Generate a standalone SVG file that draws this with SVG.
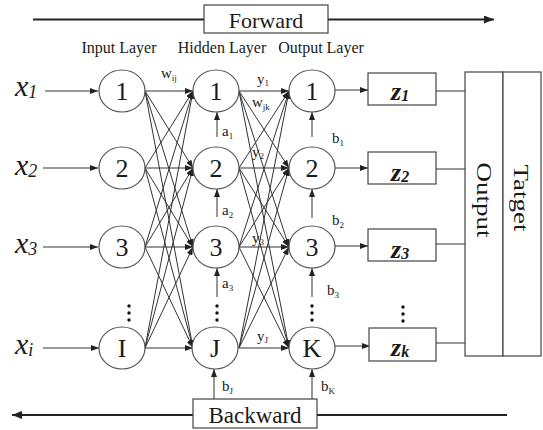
<svg xmlns="http://www.w3.org/2000/svg" width="543" height="430" viewBox="0 0 543 430">
<style>
text{font-family:"Liberation Serif","Times New Roman",serif;fill:#1a1a1a}
.node ellipse{fill:#fff;stroke:#555;stroke-width:1.2}
.num{font-size:26px;text-anchor:middle}
.lbl{font-size:16px;text-anchor:middle}
.xl{font-size:30px;font-style:italic}
.xs{font-size:18px;font-style:italic}
.zl{font-size:26px;font-style:italic;font-weight:bold}
.zs{font-size:16px;font-style:italic;font-weight:bold}
.sm{font-size:15px}
.sub{font-size:9px}
.box{fill:#fff;stroke:#444;stroke-width:1.2}
.c line{stroke:#333;stroke-width:1}
.c .arr{marker-end:url(#ah)}
.big{stroke:#222;stroke-width:2}
.dots circle{fill:#111}
</style>
<defs>
<marker id="ah" markerWidth="8" markerHeight="6" refX="8" refY="3" orient="auto" markerUnits="userSpaceOnUse">
<path d="M0,0 L8,3 L0,6 z" fill="#222"/>
</marker>
<marker id="ahb" markerWidth="10" markerHeight="8" refX="10" refY="4" orient="auto" markerUnits="userSpaceOnUse">
<path d="M0,0 L10,4 L0,8 z" fill="#222"/>
</marker>
</defs>

<!-- Forward / Backward -->
<g id="forward">
<line class="big" x1="33" y1="19.5" x2="204" y2="19.5"/>
<line class="big" x1="328" y1="19.5" x2="494" y2="19.5" marker-end="url(#ahb)"/>
<rect class="box" x="204" y="5" width="124" height="28"/>
<text x="266" y="28" font-size="22" text-anchor="middle">Forward</text>
</g>
<g id="backward">
<line class="big" x1="507" y1="415" x2="317" y2="415"/>
<line class="big" x1="193" y1="415" x2="12" y2="415" marker-end="url(#ahb)"/>
<rect class="box" x="193" y="399" width="124" height="29"/>
<text x="255" y="423" font-size="23" text-anchor="middle">Backward</text>
</g>

<!-- layer labels -->
<text class="lbl" x="119" y="53">Input Layer</text>
<text class="lbl" x="222" y="53">Hidden Layer</text>
<text class="lbl" x="321" y="53">Output Layer</text>

<!-- connectors -->
<g id="connectors" class="c">
<!-- inputs -->
<line class="arr" x1="45" y1="91" x2="98" y2="91"/>
<line class="arr" x1="43" y1="168" x2="98" y2="168"/>
<line class="arr" x1="43" y1="247" x2="98" y2="247"/>
<line class="arr" x1="43" y1="348" x2="99" y2="348"/>
<!-- input -> hidden -->
<line class="arr" x1="145" y1="91" x2="193" y2="91"/>
<line class="arr" x1="145" y1="91" x2="193" y2="168"/>
<line class="arr" x1="145" y1="91" x2="193" y2="247"/>
<line class="arr" x1="145" y1="91" x2="193" y2="348"/>
<line class="arr" x1="145" y1="168" x2="193" y2="91"/>
<line class="arr" x1="145" y1="168" x2="193" y2="168"/>
<line class="arr" x1="145" y1="168" x2="193" y2="247"/>
<line class="arr" x1="145" y1="168" x2="193" y2="348"/>
<line class="arr" x1="145" y1="247" x2="193" y2="91"/>
<line class="arr" x1="145" y1="247" x2="193" y2="168"/>
<line class="arr" x1="145" y1="247" x2="193" y2="247"/>
<line class="arr" x1="145" y1="247" x2="193" y2="348"/>
<line class="arr" x1="145" y1="348" x2="193" y2="91"/>
<line class="arr" x1="145" y1="348" x2="193" y2="168"/>
<line class="arr" x1="145" y1="348" x2="193" y2="247"/>
<line class="arr" x1="145" y1="348" x2="193" y2="348"/>
<!-- hidden -> output -->
<line class="arr" x1="239" y1="91" x2="289" y2="91"/>
<line class="arr" x1="239" y1="91" x2="289" y2="168"/>
<line class="arr" x1="239" y1="91" x2="289" y2="247"/>
<line class="arr" x1="239" y1="91" x2="289" y2="348"/>
<line class="arr" x1="239" y1="168" x2="289" y2="91"/>
<line class="arr" x1="239" y1="168" x2="289" y2="168"/>
<line class="arr" x1="239" y1="168" x2="289" y2="247"/>
<line class="arr" x1="239" y1="168" x2="289" y2="348"/>
<line class="arr" x1="239" y1="247" x2="289" y2="91"/>
<line class="arr" x1="239" y1="247" x2="289" y2="168"/>
<line class="arr" x1="239" y1="247" x2="289" y2="247"/>
<line class="arr" x1="239" y1="247" x2="289" y2="348"/>
<line class="arr" x1="239" y1="348" x2="289" y2="91"/>
<line class="arr" x1="239" y1="348" x2="289" y2="168"/>
<line class="arr" x1="239" y1="348" x2="289" y2="247"/>
<line class="arr" x1="239" y1="348" x2="289" y2="348"/>
<!-- output -> z -->
<line class="arr" x1="335" y1="90" x2="368" y2="90"/>
<line class="arr" x1="335" y1="168" x2="368" y2="168"/>
<line class="arr" x1="335" y1="246" x2="368" y2="246"/>
<line class="arr" x1="335" y1="346" x2="370" y2="346"/>
<!-- z -> output box -->
<line x1="436" y1="91" x2="465" y2="91"/>
<line x1="436" y1="169" x2="465" y2="169"/>
<line x1="436" y1="244" x2="465" y2="244"/>
<line x1="436" y1="343" x2="465" y2="343"/>
<!-- bias arrows -->
<line class="arr" x1="217" y1="137" x2="217" y2="112"/>
<line class="arr" x1="217" y1="217" x2="217" y2="189"/>
<line class="arr" x1="217" y1="297" x2="217" y2="268"/>
<line class="arr" x1="214" y1="399" x2="214" y2="369"/>
<line class="arr" x1="312" y1="137" x2="312" y2="112"/>
<line class="arr" x1="312" y1="218" x2="312" y2="189"/>
<line class="arr" x1="312" y1="297" x2="312" y2="268"/>
<line class="arr" x1="312" y1="399" x2="312" y2="369"/>
</g>

<!-- weight labels -->
<g id="labels">
<text class="sm" x="161" y="78">w<tspan class="sub" dy="3">ij</tspan></text>
<text class="sm" x="257" y="84">y<tspan class="sub" dy="2">1</tspan></text>
<text class="sm" x="252" y="107">w<tspan class="sub" dy="3">jk</tspan></text>
<text class="sm" x="252" y="157">y<tspan class="sub" dy="2">2</tspan></text>
<text class="sm" x="252" y="243">y<tspan class="sub" dy="2">3</tspan></text>
<text class="sm" x="257" y="341">y<tspan class="sub" dy="2">J</tspan></text>
<text class="sm" x="222" y="136">a<tspan class="sub" dy="3">1</tspan></text>
<text class="sm" x="222" y="215">a<tspan class="sub" dy="3">2</tspan></text>
<text class="sm" x="222" y="288">a<tspan class="sub" dy="3">3</tspan></text>
<text class="sm" x="222" y="391">b<tspan class="sub" dy="3">J</tspan></text>
<text class="sm" x="332" y="143">b<tspan class="sub" dy="3">1</tspan></text>
<text class="sm" x="332" y="225">b<tspan class="sub" dy="3">2</tspan></text>
<text class="sm" x="327" y="295">b<tspan class="sub" dy="3">3</tspan></text>
<text class="sm" x="321" y="391">b<tspan class="sub" dy="3">K</tspan></text>
</g>

<!-- input labels -->
<g id="x1"><text class="xl" x="15" y="96">x<tspan class="xs" dy="2">1</tspan></text></g>
<g id="x2"><text class="xl" x="15" y="175">x<tspan class="xs" dy="2">2</tspan></text></g>
<g id="x3"><text class="xl" x="15" y="253">x<tspan class="xs" dy="2">3</tspan></text></g>
<g id="xi"><text class="xl" x="15" y="354">x<tspan class="xs" dy="2">i</tspan></text></g>

<!-- input nodes -->
<g id="in1" class="node"><ellipse cx="122" cy="91" rx="23" ry="21"/><text class="num" x="122" y="100">1</text></g>
<g id="in2" class="node"><ellipse cx="122" cy="168" rx="23" ry="21"/><text class="num" x="122" y="177">2</text></g>
<g id="in3" class="node"><ellipse cx="122" cy="247" rx="23" ry="21"/><text class="num" x="122" y="256">3</text></g>
<g id="inI" class="node"><ellipse cx="122" cy="348" rx="23" ry="21"/><text class="num" x="122" y="357">I</text></g>

<!-- hidden nodes -->
<g id="h1" class="node"><ellipse cx="216" cy="91" rx="23" ry="21"/><text class="num" x="216" y="100">1</text></g>
<g id="h2" class="node"><ellipse cx="216" cy="168" rx="23" ry="21"/><text class="num" x="216" y="177">2</text></g>
<g id="h3" class="node"><ellipse cx="216" cy="247" rx="23" ry="21"/><text class="num" x="216" y="256">3</text></g>
<g id="hJ" class="node"><ellipse cx="215" cy="348" rx="23" ry="21"/><text class="num" x="215" y="357">J</text></g>

<!-- output nodes -->
<g id="o1" class="node"><ellipse cx="312" cy="91" rx="23" ry="21"/><text class="num" x="312" y="100">1</text></g>
<g id="o2" class="node"><ellipse cx="312" cy="168" rx="23" ry="21"/><text class="num" x="312" y="177">2</text></g>
<g id="o3" class="node"><ellipse cx="312" cy="247" rx="23" ry="21"/><text class="num" x="312" y="256">3</text></g>
<g id="oK" class="node"><ellipse cx="312" cy="348" rx="23" ry="21"/><text class="num" x="312" y="357">K</text></g>

<!-- z boxes -->
<g id="z1"><rect class="box" x="368" y="73" width="68" height="32"/><text class="zl" x="391" y="100">z<tspan class="zs" dy="1">1</tspan></text></g>
<g id="z2"><rect class="box" x="368" y="152" width="68" height="32"/><text class="zl" x="391" y="181">z<tspan class="zs" dy="1">2</tspan></text></g>
<g id="z3"><rect class="box" x="368" y="229" width="68" height="32"/><text class="zl" x="391" y="258">z<tspan class="zs" dy="1">3</tspan></text></g>
<g id="zk"><rect class="box" x="369" y="328" width="67" height="33"/><text class="zl" x="391" y="356">z<tspan class="zs" dy="1">k</tspan></text></g>

<!-- dots -->
<g class="dots">
<circle cx="129" cy="306" r="1.7"/><circle cx="129" cy="313" r="1.7"/><circle cx="129" cy="320" r="1.7"/>
<circle cx="217" cy="306" r="1.7"/><circle cx="217" cy="313" r="1.7"/><circle cx="217" cy="320" r="1.7"/>
<circle cx="312" cy="306" r="1.7"/><circle cx="312" cy="313" r="1.7"/><circle cx="312" cy="320" r="1.7"/>
<circle cx="403" cy="307" r="1.7"/><circle cx="403" cy="314" r="1.7"/><circle cx="403" cy="321" r="1.7"/>
</g>

<!-- output / target -->
<g id="outbox">
<rect class="box" x="465" y="72" width="38" height="284"/>
<text transform="translate(484,200) rotate(90)" y="7" font-size="22" text-anchor="middle" textLength="75" lengthAdjust="spacingAndGlyphs">Output</text>
</g>
<g id="target">
<rect class="box" x="503" y="72" width="38" height="284"/>
<text transform="translate(521,198) rotate(90)" y="7" font-size="22" text-anchor="middle" textLength="67" lengthAdjust="spacingAndGlyphs">Tatget</text>
</g>
</svg>
